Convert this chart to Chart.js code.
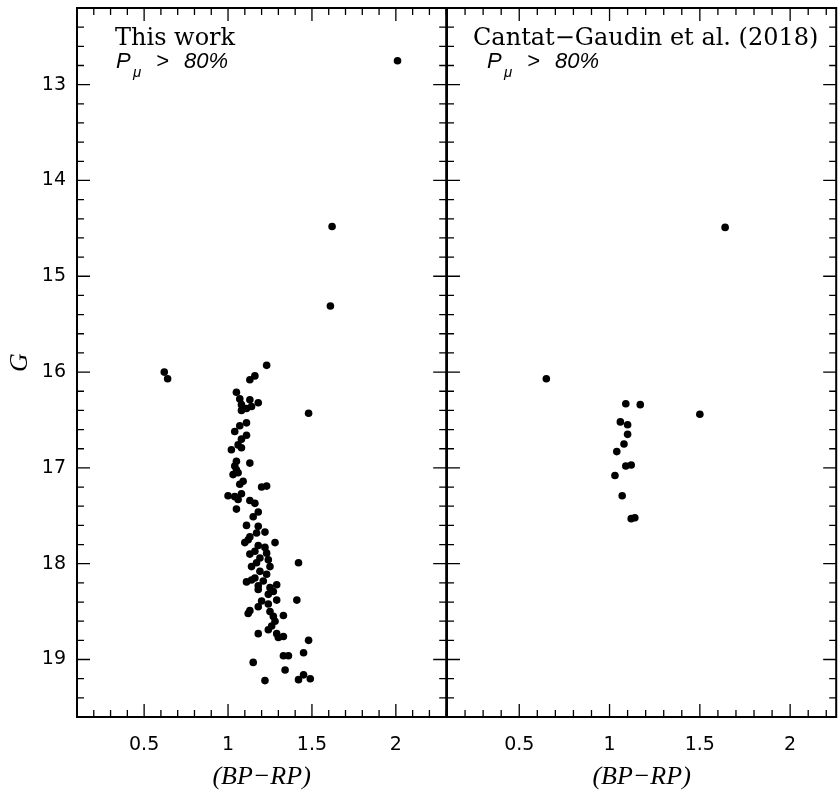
<!DOCTYPE html>
<html>
<head>
<meta charset="utf-8">
<script src="https://cdn.jsdelivr.net/npm/chart.js@4.4.0/dist/chart.umd.min.js"></script>
<style>
body { margin: 0; background: #fff; width: 840px; height: 795px; overflow: hidden; position: relative; }
canvas { position: absolute; top: 0; }
#left { left: 0; }
#right { left: 440px; }
</style>
</head>
<body>
<canvas id="left" width="450" height="795"></canvas>
<canvas id="right" width="400" height="795"></canvas>
<script>
// Painel esquerdo: This work, P_mu > 80%
const bpWork = [2.01, 1.62, 1.61, 0.62, 0.64, 1.48, 1.23, 1.16, 1.13, 1.05,
  1.07, 1.13, 1.18, 1.08, 1.14, 1.08, 1.11, 1.11, 1.07, 1.04,
  1.11, 1.08, 1.06, 1.08, 1.02, 1.05, 1.13, 1.04, 1.03, 1.06,
  1.05, 1.09, 1.07, 1.20, 1.23, 1.00, 1.04, 1.08, 1.06, 1.13,
  1.16, 1.05, 1.18, 1.15, 1.11, 1.18, 1.17, 1.22, 1.13, 1.28,
  1.10, 1.12, 1.18, 1.22, 1.16, 1.13, 1.23, 1.19, 1.24, 1.17,
  1.14, 1.25, 1.42, 1.19, 1.23, 1.16, 1.11, 1.14, 1.21, 1.29,
  1.18, 1.25, 1.18, 1.27, 1.24, 1.29, 1.41, 1.20, 1.24, 1.18,
  1.13, 1.12, 1.25, 1.27, 1.33, 1.28, 1.26, 1.24, 1.18, 1.29,
  1.33, 1.30, 1.48, 1.33, 1.36, 1.45, 1.15, 1.34, 1.45, 1.42,
  1.49, 1.22]
const gWork = [12.75, 14.48, 15.31, 16.00, 16.07, 16.43, 15.93, 16.04, 16.08, 16.21,
  16.28, 16.29, 16.32, 16.34, 16.36, 16.40, 16.38, 16.53, 16.56, 16.62,
  16.66, 16.70, 16.76, 16.79, 16.81, 16.93, 16.95, 16.98, 17.07, 17.05,
  17.02, 17.14, 17.17, 17.20, 17.19, 17.29, 17.30, 17.27, 17.33, 17.34,
  17.37, 17.43, 17.46, 17.51, 17.60, 17.61, 17.68, 17.67, 17.72, 17.78,
  17.78, 17.75, 17.81, 17.83, 17.87, 17.90, 17.89, 17.94, 17.96, 17.99,
  18.03, 18.03, 17.99, 18.08, 18.11, 18.15, 18.19, 18.17, 18.18, 18.22,
  18.23, 18.25, 18.27, 18.29, 18.32, 18.38, 18.38, 18.39, 18.42, 18.45,
  18.49, 18.52, 18.50, 18.55, 18.54, 18.60, 18.65, 18.69, 18.73, 18.73,
  18.76, 18.77, 18.80, 18.96, 18.96, 18.93, 19.03, 19.11, 19.16, 19.21,
  19.20, 19.22]

// Painel direito: Cantat-Gaudin et al. (2018)
const bpCG = [1.64, 0.65, 1.50, 1.09, 1.17, 1.06, 1.10, 1.10, 1.08, 1.04, 1.09, 1.12, 1.03, 1.07, 1.12, 1.14]
const gCG = [14.49, 16.07, 16.44, 16.33, 16.34, 16.52, 16.55, 16.65, 16.75, 16.83, 16.98, 16.97, 17.08, 17.29, 17.53, 17.52]

const xTicks = [0.5, 1, 1.5, 2]
const yTicks = [13, 14, 15, 16, 17, 18, 19]

const tickFont = { family: 'DejaVu Sans', size: 19 }
const titleFont = { family: 'Liberation Serif', size: 26, style: 'italic' }

// moldura e ticks para dentro (maiores e menores)
const frameTicks = {
  id: 'frameTicks',
  afterDraw(chart, args, opts) {
    const ctx = chart.ctx
    const a = chart.chartArea
    const x = chart.scales.x
    const y = chart.scales.y
    ctx.save()
    ctx.strokeStyle = '#000'
    ctx.lineWidth = 1.3
    ctx.beginPath()
    for (let i = Math.ceil(x.min * 10 - 1e-6); i <= Math.floor(x.max * 10 + 1e-6); i++) {
      const px = x.getPixelForValue(i / 10)
      const len = i % 5 === 0 ? 13 : 7
      ctx.moveTo(px, a.top); ctx.lineTo(px, a.top + len)
      ctx.moveTo(px, a.bottom); ctx.lineTo(px, a.bottom - len)
    }
    for (let i = Math.ceil(y.min * 5 - 1e-6); i <= Math.floor(y.max * 5 + 1e-6); i++) {
      const py = y.getPixelForValue(i / 5)
      const len = i % 5 === 0 ? 13 : 7
      ctx.moveTo(a.left, py); ctx.lineTo(a.left + len, py)
      ctx.moveTo(a.right, py); ctx.lineTo(a.right - len, py)
    }
    ctx.stroke()
    ctx.lineWidth = 2
    ctx.strokeRect(a.left, a.top, a.right - a.left, a.bottom - a.top)

    // textos do painel
    ctx.fillStyle = '#000'
    ctx.textBaseline = 'alphabetic'
    ctx.font = '24px "DejaVu Serif"'
    ctx.fillText(opts.label, opts.lx, 45)
    ctx.font = 'italic 22px "Liberation Sans"'
    ctx.fillText('P', opts.px, 68)
    ctx.fillText('>', opts.px + 40, 68)
    ctx.fillText('80%', opts.px + 68, 68)
    ctx.font = 'italic 15px "Liberation Sans"'
    ctx.fillText('μ', opts.px + 17, 77)
    ctx.restore()
  }
}

function makePanel(id, bp, g, opts) {
  const points = bp.map((v, i) => ({ x: v, y: g[i] }))
  return new Chart(document.getElementById(id), {
    type: 'scatter',
    data: {
      datasets: [{
        data: points,
        pointRadius: 3.8,
        pointHoverRadius: 3.8,
        backgroundColor: '#000',
        borderWidth: 0,
      }]
    },
    options: {
      responsive: false,
      animation: false,
      layout: { padding: { top: 8, right: opts.padRight, left: opts.padLeft, bottom: 0 } },
      plugins: {
        legend: { display: false },
        tooltip: { enabled: false },
        frameTicks: { label: opts.label, lx: opts.lx, px: opts.px },
      },
      scales: {
        x: {
          type: 'linear',
          min: 0.1,
          max: opts.xMax,
          grid: { display: false, drawTicks: false },
          border: { display: false },
          afterBuildTicks: s => { s.ticks = xTicks.map(v => ({ value: v })) },
          afterFit: s => { s.height = 78; s.paddingLeft = 0; s.paddingRight = 0 },
          ticks: {
            font: tickFont,
            color: '#000',
            padding: 17,
            maxRotation: 0,
            callback: v => String(v),
          },
          title: {
            display: true,
            text: '(BP−RP)',
            font: titleFont,
            color: '#000',
            padding: { top: 0, bottom: 2 },
          }
        },
        y: {
          type: 'linear',
          reverse: true,
          min: 12.2,
          max: 19.6,
          display: opts.showY,
          grid: { display: false, drawTicks: false },
          border: { display: false },
          afterBuildTicks: s => { s.ticks = yTicks.map(v => ({ value: v })) },
          afterFit: s => {
            if (opts.showY) s.width = 77
            s.paddingTop = 0
            s.paddingBottom = 0
          },
          ticks: {
            font: tickFont,
            color: '#000',
            padding: 11,
            callback: v => String(v),
          },
          title: {
            display: true,
            text: 'G',
            font: titleFont,
            color: '#000',
            padding: { top: 5, bottom: 0 },
          }
        }
      }
    },
    plugins: [frameTicks]
  })
}

makePanel('left', bpWork, gWork, { xMax: 2.3, padLeft: 0, padRight: 3, showY: true, label: 'This work', lx: 115, px: 116 })
makePanel('right', bpCG, gCG, { xMax: 2.255, padLeft: 7, padRight: 2, showY: false, label: 'Cantat−Gaudin et al. (2018)', lx: 33, px: 47 })
</script>
</body>
</html>
